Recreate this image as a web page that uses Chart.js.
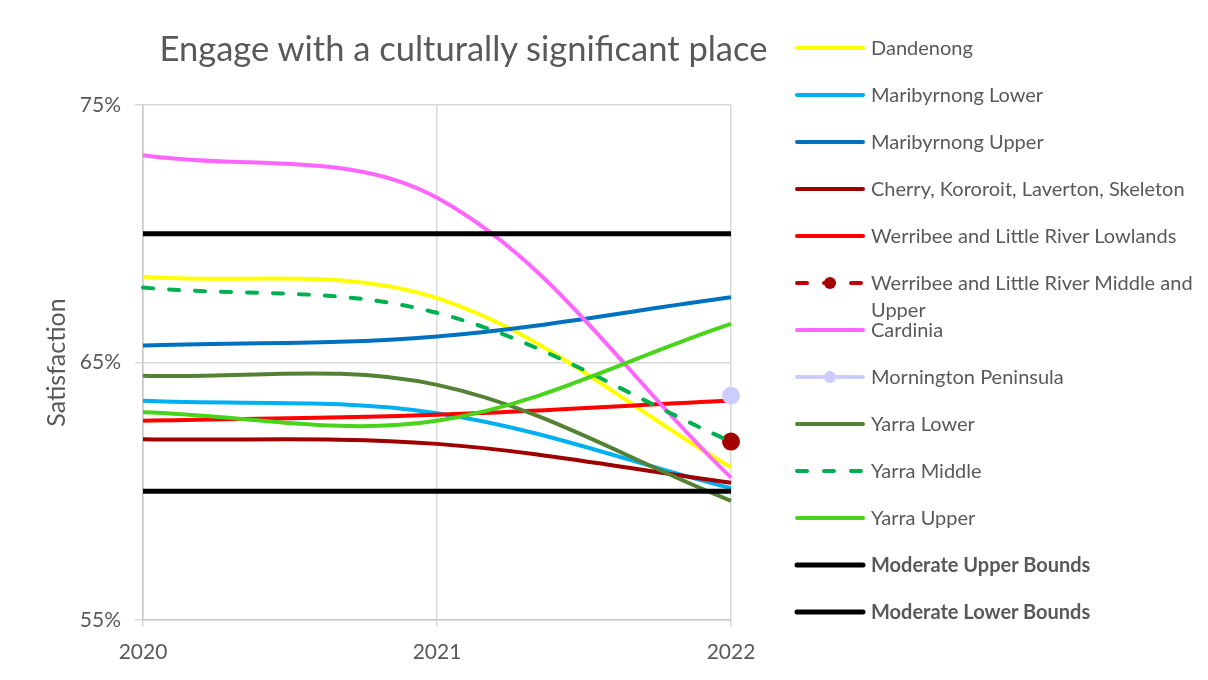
<!DOCTYPE html>
<html>
<head>
<meta charset="utf-8">
<script src="https://cdn.jsdelivr.net/npm/chart.js@4.4.1/dist/chart.umd.min.js"></script>
<style>
  body { margin: 0; background: #fff; }
  #contenedor { position: relative; width: 1208px; height: 680px; font-family: Lato, sans-serif; color: #595959; }
  #grafico { position: absolute; left: 0; top: 0; }
  #titulo { position: absolute; left: 0; width: 927px; top: 28px; text-align: center; font-size: 34.5px; line-height: 40px; }
  #leyenda { position: absolute; left: 794px; top: 25px; }
  .item { height: 47px; display: flex; align-items: flex-start; }
  .item svg { flex: none; margin-top: 16px; }
  .item span { font-size: 20px; line-height: 27px; margin-left: 5px; margin-top: 9px; width: 332px; }
</style>
</head>
<body>
<div id="contenedor">
  <canvas id="grafico" width="1208" height="680"></canvas>
  <div id="titulo">Engage with a culturally significant place</div>
  <div id="leyenda"></div>
</div>
<script>
// datos
const anios = ['2020', '2021', '2022'];
const nombres = [
  'Dandenong',
  'Maribyrnong Lower',
  'Maribyrnong Upper',
  'Cherry, Kororoit, Laverton, Skeleton',
  'Werribee and Little River Lowlands',
  'Werribee and Little River Middle and Upper',
  'Cardinia',
  'Mornington Peninsula',
  'Yarra Lower',
  'Yarra Middle',
  'Yarra Upper',
  'Moderate Upper Bounds',
  'Moderate Lower Bounds'
];
const dandenong = [68.33, 67.5, 60.93];
const maribyrnongLower = [63.51, 63.03, 60.12];
const maribyrnongUpper = [65.66, 66.01, 67.53];
const cherry = [62.02, 61.84, 60.33];
const werribeeLowlands = [62.74, 62.97, 63.52];
const werribeeMiddle = [null, null, 61.93];
const cardinia = [73.05, 71.4, 60.53];
const mornington = [null, null, 63.71];
const yarraLower = [64.49, 64.13, 59.63];
const yarraMiddle = [67.91, 66.93, 61.93];
const yarraUpper = [63.07, 62.74, 66.5];
const limiteSuperior = [70, 70, 70];
const limiteInferior = [60, 60, 60];
const ticksY = [55, 65, 75];

const valores = [dandenong, maribyrnongLower, maribyrnongUpper, cherry, werribeeLowlands, werribeeMiddle,
  cardinia, mornington, yarraLower, yarraMiddle, yarraUpper, limiteSuperior, limiteInferior];

// estilos de cada serie
const colores = ['#FFFF00', '#00B0F0', '#0070C0', '#9E0000', '#FF0000', '#C00000',
  '#FF66FF', '#CCCCFF', '#548235', '#00B050', '#47D41A', '#000000', '#000000'];
const guiones = [null, null, null, null, null, [10, 16], null, null, null, [10, 16], null, null, null];
const marcas = [0, 0, 0, 0, 0, 7, 0, 7, 0, 0, 0, 0, 0];
const colorMarca = ['', '', '', '', '', '#A50000', '', '#CCCCFF', '', '', '', '', ''];
const negrita = [false, false, false, false, false, false, false, false, false, false, false, true, true];

const fuente = 'Lato';
const gris = '#595959';

var datasets = nombres.map(function(nombre, i) {
  return {
    label: nombre,
    data: valores[i],
    borderColor: colores[i],
    backgroundColor: colorMarca[i] || colores[i],
    pointBackgroundColor: colorMarca[i] || colores[i],
    pointBorderColor: colorMarca[i] || colores[i],
    borderWidth: i >= 11 ? 5 : 4,
    borderDash: guiones[i] || [],
    borderCapStyle: guiones[i] ? 'round' : 'butt',
    pointRadius: marcas[i],
    pointHoverRadius: marcas[i],
    tension: 0.35,
    fill: false,
    order: nombres.length - i
  };
});

var ctx = document.getElementById('grafico').getContext('2d');
var chart = new Chart(ctx, {
  type: 'line',
  data: {
    labels: anios,
    datasets: datasets
  },
  options: {
    responsive: false,
    animation: false,
    layout: {
      padding: { top: 105, right: 477, bottom: 0, left: 0 }
    },
    plugins: {
      legend: { display: false },
      tooltip: { enabled: false }
    },
    scales: {
      x: {
        ticks: { color: gris, font: { family: fuente, size: 21 }, padding: 13 },
        grid: { color: '#d9d9d9', lineWidth: 1.5, tickLength: 7, tickColor: '#d9d9d9' },
        border: { color: '#c8c8c8', width: 1.5 },
        afterFit: function(s) { s.height = 60; }
      },
      y: {
        min: 55,
        max: 75,
        afterBuildTicks: function(s) { s.ticks = ticksY.map(function(v) { return { value: v }; }); },
        ticks: {
          color: gris,
          font: { family: fuente, size: 21 },
          padding: 14,
          callback: function(v) { return v + '%'; }
        },
        grid: { color: '#d9d9d9', lineWidth: 1.5, tickLength: 8, tickColor: '#d9d9d9' },
        border: { color: '#c8c8c8', width: 1.5 },
        title: {
          display: true,
          text: 'Satisfaction',
          color: gris,
          font: { family: fuente, size: 25 },
          padding: { top: 42, bottom: 0 }
        },
        afterFit: function(s) { s.width = 143; }
      }
    }
  }
});

// leyenda con muestras de linea
function muestra(i) {
  var w = i >= 11 ? 5 : 4;
  var dash = guiones[i] ? ' stroke-dasharray="10 17" stroke-linecap="round"' : ' stroke-linecap="round"';
  var svg = '<svg width="72" height="14"><line x1="3" y1="7" x2="69" y2="7" stroke="' + colores[i] +
    '" stroke-width="' + w + '"' + dash + '/>';
  if (marcas[i]) {
    svg += '<circle cx="36" cy="7" r="6" fill="' + colorMarca[i] + '"/>';
  }
  return svg + '</svg>';
}
var leyenda = document.getElementById('leyenda');
nombres.forEach(function(nombre, i) {
  var div = document.createElement('div');
  div.className = 'item';
  div.innerHTML = muestra(i) + '<span' + (negrita[i] ? ' style="font-weight:bold"' : '') + '>' + nombre + '</span>';
  leyenda.appendChild(div);
});
</script>
</body>
</html>
